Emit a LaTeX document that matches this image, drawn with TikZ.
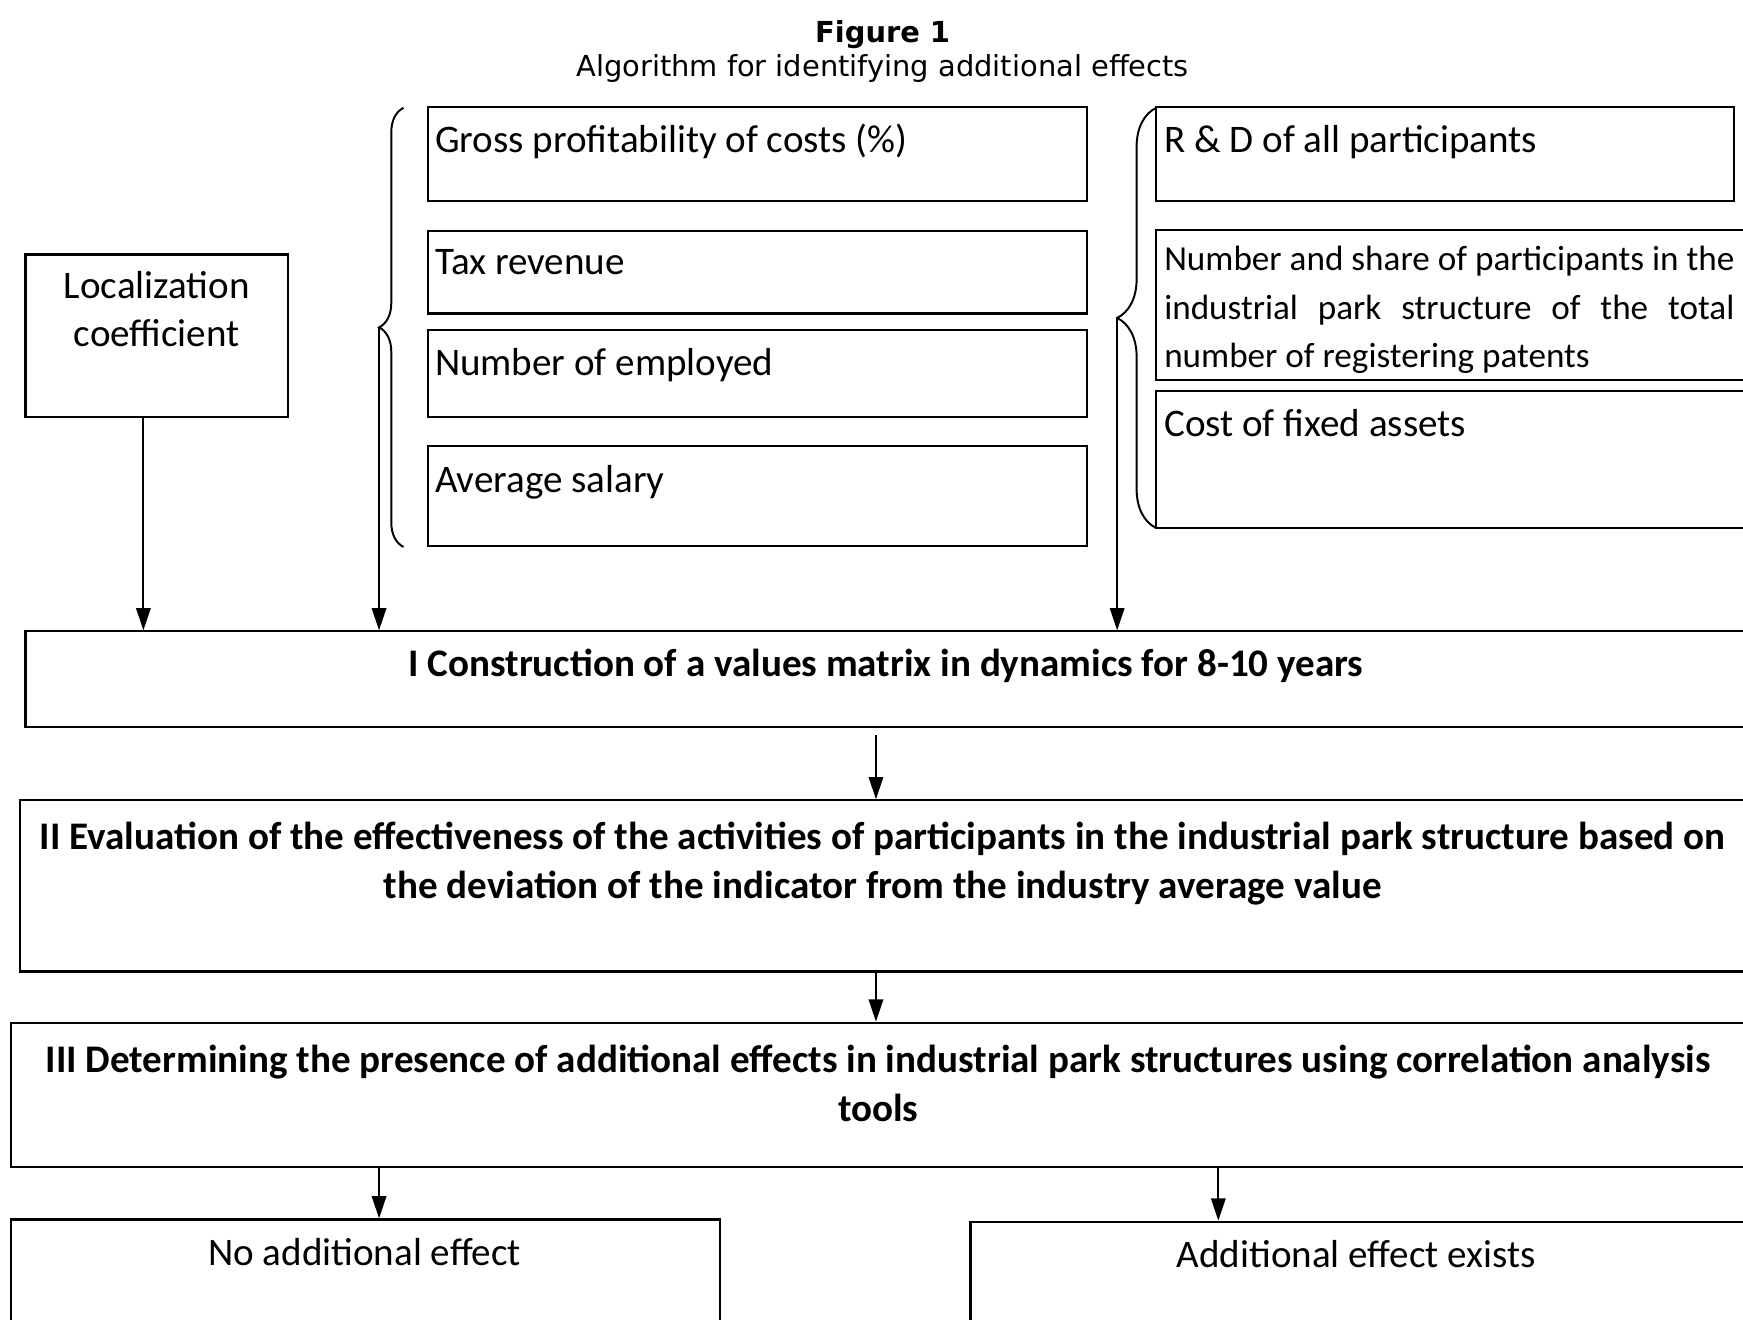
\documentclass[tikz,border=0pt]{standalone}
\usepackage{fontspec}
\setmainfont{Carlito}
\newfontfamily\titlefont{DejaVu Sans}
\usetikzlibrary{arrows.meta,fit,decorations.pathreplacing,positioning}

\begin{document}
\begin{tikzpicture}[
    x=0.02cm, y=-0.02cm,
    box/.style={draw, line width=1.1pt, inner sep=0pt},
    txt/.style={inner sep=0pt, font=\fontsize{20}{25}\selectfont},
    btxt/.style={inner sep=0pt, font=\fontsize{20}{25}\selectfont\bfseries},
    head/.style={inner sep=0pt, anchor=base, font=\titlefont\fontsize{14.8}{18}\selectfont},
    line/.style={-{Triangle[length=0.4cm, width=0.26cm]}, line width=1pt},
    curly/.style={decorate, decoration={brace, amplitude=#1}, line width=1pt}
]
\useasboundingbox (0,0) rectangle (1568,1187);
\clip (0,0) rectangle (1568,1187);

% Titre
\node[head, font=\titlefont\fontsize{14.8}{18}\selectfont\bfseries] (fig) at (794,38) {Figure 1};
\node[head] (caption) at (794,69) {Algorithm for identifying additional effects};

% Indicateurs (gauche)
\node[box, fit={(385,96) (978,181)}] (gross) {};
\node[txt, anchor=base west] (gross-t) at (391,137) {Gross profitability of costs (\%)};
\node[box, fit={(385,208) (978,282)}] (tax) {};
\node[txt, anchor=base west] (tax-t) at (391,247) {Tax revenue};
\node[box, fit={(385,297) (978,375)}] (empl) {};
\node[txt, anchor=base west] (empl-t) at (391,338) {Number of employed};
\node[box, fit={(385,401) (978,491)}] (salary) {};
\node[txt, anchor=base west] (salary-t) at (391,443) {Average salary};

% Indicateurs (droite)
\node[box, fit={(1040,96) (1560,181)}] (rd) {};
\node[txt, anchor=base west] (rd-t) at (1047,137) {R \& D of all participants};
\node[box, fit={(1040,207) (1600,342)}] (share) {};
% base = derniere ligne
\node[txt, font=\fontsize{18}{25}\selectfont, anchor=base west, align=left] (share-t) at (1047,331)
    {\makebox[10.26cm][s]{Number and share of participants in the}\\
     \makebox[10.26cm][s]{industrial park structure of the total}\\
     number of registering patents};
\node[box, fit={(1040,352) (1600,475)}] (assets) {};
\node[txt, anchor=base west] (assets-t) at (1047,393) {Cost of fixed assets};

\node[box, fit={(23,229) (259,375)}] (loc) {};
\node[txt, anchor=base, align=center] (loc-t) at (141,312) {Localization\\coefficient};

% Accolades
\draw[curly=0.44cm] (363,492) -- (363,97);
\draw[curly=0.7cm] (1040,475) -- (1040,97);
\coordinate (ltip) at (341,294);
\coordinate (rtip) at (1005,286);
\coordinate (locout) at (129,375);

% Etapes
\node[box, fit={(23,568) (1600,654)}] (step1) {};
\node[btxt, anchor=base] (step1-t) at (797,609) {I Construction of a values matrix in dynamics for 8-10 years};
\node[box, fit={(18,720) (1600,874)}] (step2) {};
\node[btxt, anchor=base, align=center] (step2-t) at (794,808)
    {II Evaluation of the effectiveness of the activities of participants in the industrial park structure based on\\
     the deviation of the indicator from the industry average value};
\node[box, fit={(10,920) (1600,1050)}] (step3) {};
\node[btxt, anchor=base, align=center] (step3-t) at (790,1009)
    {III Determining the presence of additional effects in industrial park structures using correlation analysis\\
     tools};

% Resultats
\node[box, fit={(10,1097) (648,1220)}] (noeff) {};
\node[txt, anchor=base] (noeff-t) at (328,1138) {No additional effect};
\node[box, fit={(873,1099) (1600,1220)}] (effect) {};
\node[txt, anchor=base] (effect-t) at (1220,1140) {Additional effect exists};

% Fleches
\coordinate (mid) at (788,661);
\coordinate (lout) at (341,1050);
\coordinate (rout) at (1096,1050);
\draw[line] (locout) -- (locout |- step1.north);
\draw[line] (ltip) -- (ltip |- step1.north);
\draw[line] (rtip) -- (rtip |- step1.north);
\draw[line] (mid) -- (mid |- step2.north);
\draw[line] (mid |- step2.south) -- (mid |- step3.north);
\draw[line] (lout |- step3.south) -- (lout |- noeff.north);
\draw[line] (rout |- step3.south) -- (rout |- effect.north);

\end{tikzpicture}
\end{document}
